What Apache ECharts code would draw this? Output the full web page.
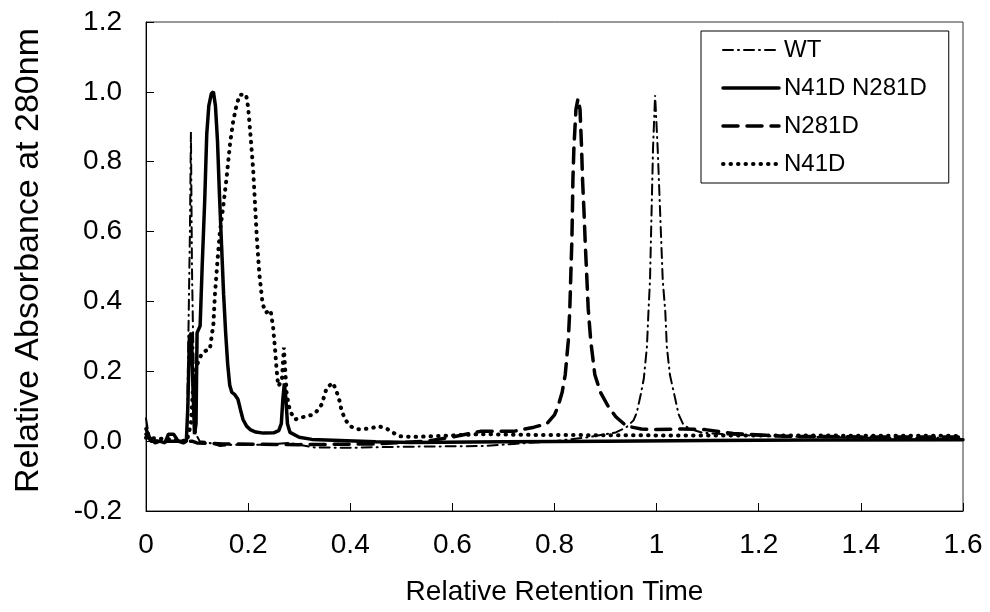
<!DOCTYPE html>
<html>
<head>
<meta charset="utf-8">
<style>
  html, body { margin: 0; padding: 0; background: #fff; }
  #chart { width: 990px; height: 612px; }
</style>
<script src="https://cdn.jsdelivr.net/npm/echarts@6/dist/echarts.min.js"></script>
</head>
<body>
<div id="chart"></div>
<script>
// [relative retention time, relative absorbance]
const wtData = [
  [0.0, 0.065], [0.004, 0.03], [0.01, 0.005], [0.03, 0.0], [0.06, 0.0], [0.08, 0.0],
  [0.083, 0.3], [0.086, 0.6], [0.088, 0.885], [0.09, 0.5], [0.092, 0.32], [0.095, 0.1],
  [0.098, 0.02], [0.105, 0.0], [0.12, -0.003], [0.145, -0.014], [0.17, -0.01], [0.23, -0.01],
  [0.28, -0.005], [0.33, -0.018], [0.4, -0.019], [0.5, -0.016], [0.66, -0.014], [0.72, -0.008],
  [0.8, 0.0], [0.87, 0.012], [0.92, 0.025], [0.941, 0.04], [0.955, 0.06], [0.961, 0.081],
  [0.969, 0.134], [0.975, 0.18], [0.981, 0.27], [0.984, 0.37], [0.987, 0.46], [0.99, 0.65],
  [0.993, 0.84], [0.997, 0.99], [1.002, 0.84], [1.007, 0.65], [1.012, 0.46], [1.017, 0.37],
  [1.02, 0.27], [1.026, 0.19], [1.036, 0.124], [1.043, 0.077], [1.052, 0.048], [1.065, 0.035],
  [1.09, 0.024], [1.15, 0.018], [1.25, 0.013], [1.4, 0.01], [1.6, 0.01]
];
const doubleData = [
  [0.0, 0.035], [0.007, 0.01], [0.018, -0.005], [0.027, 0.0], [0.037, -0.005], [0.044, 0.02],
  [0.054, 0.02], [0.063, 0.0], [0.073, -0.005], [0.079, 0.0], [0.082, 0.1], [0.085, 0.3],
  [0.089, 0.31], [0.092, 0.15], [0.095, 0.02], [0.098, 0.05], [0.1, 0.31], [0.106, 0.33],
  [0.11, 0.5], [0.115, 0.69], [0.119, 0.88], [0.123, 0.96], [0.128, 0.995], [0.132, 1.0],
  [0.136, 0.96], [0.14, 0.86], [0.144, 0.7], [0.148, 0.56], [0.152, 0.42], [0.156, 0.31],
  [0.16, 0.22], [0.164, 0.16], [0.168, 0.14], [0.174, 0.133], [0.18, 0.12], [0.185, 0.09],
  [0.19, 0.062], [0.197, 0.043], [0.204, 0.033], [0.215, 0.026], [0.23, 0.023], [0.25, 0.024],
  [0.26, 0.03], [0.265, 0.05], [0.268, 0.12], [0.271, 0.165], [0.274, 0.12], [0.277, 0.05],
  [0.282, 0.025], [0.3, 0.011], [0.325, 0.005], [0.38, 0.002], [0.45, -0.002], [0.52, -0.004],
  [0.7, -0.002], [0.9, 0.0], [1.1, 0.002], [1.3, 0.003], [1.6, 0.004]
];
const n281dData = [
  [0.0, 0.02], [0.01, 0.0], [0.05, 0.0], [0.09, 0.0], [0.1, -0.005], [0.15, -0.008],
  [0.3, -0.01], [0.45, -0.008], [0.55, 0.0], [0.6, 0.012], [0.655, 0.028], [0.72, 0.028],
  [0.76, 0.04], [0.785, 0.05], [0.8, 0.075], [0.807, 0.1], [0.815, 0.14], [0.821, 0.19],
  [0.827, 0.287], [0.83, 0.38], [0.832, 0.478], [0.834, 0.574], [0.835, 0.65], [0.836, 0.746],
  [0.838, 0.84], [0.842, 0.95], [0.846, 0.98], [0.85, 0.95], [0.853, 0.84], [0.855, 0.746],
  [0.858, 0.65], [0.86, 0.574], [0.863, 0.478], [0.866, 0.38], [0.871, 0.287], [0.879, 0.19],
  [0.89, 0.14], [0.905, 0.1], [0.92, 0.07], [0.941, 0.043], [0.97, 0.035], [0.993, 0.033],
  [1.05, 0.035], [1.095, 0.033], [1.15, 0.022], [1.25, 0.014], [1.4, 0.012], [1.6, 0.012]
];
const n41dData = [
  [0.0, 0.01], [0.05, 0.005], [0.08, 0.0], [0.088, 0.05], [0.092, 0.15], [0.097, 0.2],
  [0.1025, 0.23], [0.109, 0.249], [0.1155, 0.258], [0.125, 0.263], [0.132, 0.335], [0.135, 0.421],
  [0.14, 0.517], [0.145, 0.603], [0.151, 0.669], [0.158, 0.756], [0.1645, 0.851], [0.171, 0.918],
  [0.178, 0.966], [0.184, 0.992], [0.196, 0.992], [0.2, 0.956], [0.205, 0.87], [0.21, 0.775],
  [0.2135, 0.679], [0.217, 0.583], [0.222, 0.478], [0.2285, 0.392], [0.235, 0.368], [0.244, 0.375],
  [0.249, 0.325], [0.2525, 0.268], [0.256, 0.201], [0.259, 0.158], [0.266, 0.172], [0.27, 0.268],
  [0.2755, 0.134], [0.282, 0.086], [0.292, 0.062], [0.31, 0.07], [0.325, 0.075], [0.334, 0.085],
  [0.344, 0.105], [0.354, 0.153], [0.366, 0.167], [0.373, 0.143], [0.379, 0.115], [0.383, 0.088],
  [0.39, 0.062], [0.4, 0.043], [0.413, 0.034], [0.439, 0.036], [0.455, 0.043], [0.471, 0.036],
  [0.484, 0.024], [0.497, 0.014], [0.523, 0.012], [0.58, 0.015], [0.654, 0.02], [0.75, 0.018],
  [0.9, 0.017], [1.1, 0.016], [1.3, 0.016], [1.6, 0.015]
];
const seriesNames = ['WT', 'N41D N281D', 'N281D', 'N41D'];

const FONT = '"Liberation Sans", Arial, sans-serif';

// stroke width and dash pattern per series, same order as seriesNames
const lineWidths = [2, 3.5, 3.5, 4];
const lineTypes = [[10, 5, 1, 5], 'solid', [15, 9], [0.5, 7]];

const chart = echarts.init(document.getElementById('chart'));

function lineSeries (i, data) {
  return {
    name: seriesNames[i],
    type: 'line',
    data: data,
    symbol: 'none',
    showSymbol: false,
    animation: false,
    itemStyle: { color: '#000' },
    lineStyle: { color: '#000', width: lineWidths[i], type: lineTypes[i], cap: 'round' }
  };
}

chart.setOption({
  backgroundColor: '#fff',
  animation: false,
  color: ['#000'],
  grid: {
    left: 146,
    right: 27,
    top: 22,
    bottom: 101,
    show: true,
    borderColor: '#333',
    borderWidth: 1
  },
  legend: {
    data: seriesNames.map((name, i) => ({
      name: name,
      lineStyle: { color: '#000', width: lineWidths[i], type: lineTypes[i], cap: 'round' }
    })),
    orient: 'vertical',
    left: 701,
    top: 31,
    padding: [7, 22, 7, 20],
    itemWidth: 56,
    itemHeight: 24,
    itemGap: 14,
    borderColor: '#000',
    borderWidth: 1,
    itemStyle: { opacity: 0 },
    textStyle: { fontSize: 24, color: '#000', fontFamily: FONT }
  },
  xAxis: {
    type: 'value',
    min: 0,
    max: 1.6,
    interval: 0.2,
    name: 'Relative Retention Time',
    nameLocation: 'middle',
    nameGap: 67,
    nameTextStyle: { fontSize: 28, color: '#000', fontFamily: FONT },
    axisLine: { onZero: false, lineStyle: { color: '#000', width: 1 } },
    axisTick: { inside: true, length: 8, lineStyle: { color: '#000' } },
    axisLabel: {
      margin: 20,
      fontSize: 28,
      color: '#000',
      fontFamily: FONT,
      formatter: v => String(+v.toFixed(1))
    },
    splitLine: { show: false }
  },
  yAxis: {
    type: 'value',
    min: -0.2,
    max: 1.2,
    interval: 0.2,
    name: 'Relative Absorbance at 280nm',
    nameLocation: 'middle',
    nameGap: 100,
    nameTextStyle: { fontSize: 34, color: '#000', fontFamily: FONT, padding: [0, 0, 0, 12] },
    axisLine: { onZero: false, lineStyle: { color: '#000', width: 1 } },
    axisTick: { inside: true, length: 8, lineStyle: { color: '#000' } },
    axisLabel: {
      margin: 24,
      fontSize: 28,
      color: '#000',
      fontFamily: FONT,
      formatter: v => v.toFixed(1)
    },
    splitLine: { show: false }
  },
  series: [
    lineSeries(0, wtData),
    lineSeries(1, doubleData),
    lineSeries(2, n281dData),
    lineSeries(3, n41dData)
  ]
});
</script>
</body>
</html>
